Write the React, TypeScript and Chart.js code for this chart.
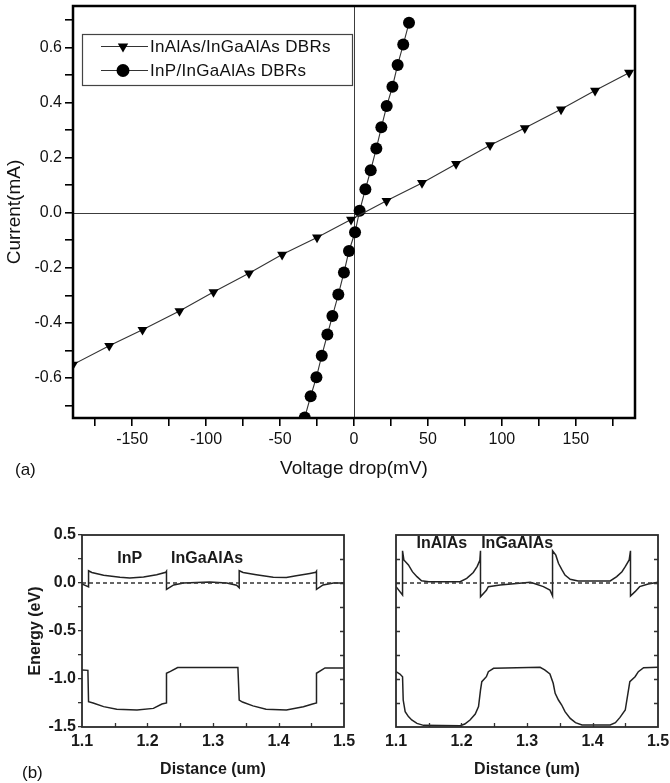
import React, { useEffect, useRef } from 'react';
import { Chart, registerables } from 'chart.js';

Chart.register(...registerables);

const FONT = "'Liberation Sans', Arial, Helvetica, sans-serif";

// ---- (a) current–voltage characteristics ----
const seriesNames = ['InAlAs/InGaAlAs DBRs', 'InP/InGaAlAs DBRs'];
const inalasVoltage = [-190, -165.5, -143, -118, -95, -71, -48.6, -25, -2, 22, 46, 69, 92, 115.5, 140, 163, 186];
const inalasCurrent = [-0.551, -0.483, -0.425, -0.357, -0.288, -0.22, -0.152, -0.09, -0.025, 0.043, 0.108, 0.177, 0.245, 0.307, 0.375, 0.443, 0.508];
const inpVoltage = [-33.3, -29.3, -25.4, -21.8, -18, -14.6, -10.6, -6.8, -3.4, 0.7, 3.8, 7.7, 11.3, 15.1, 18.5, 22.1, 26, 29.5, 33.3, 37.2];
const inpCurrent = [-0.743, -0.666, -0.597, -0.519, -0.442, -0.375, -0.297, -0.217, -0.139, -0.071, 0.007, 0.085, 0.154, 0.233, 0.31, 0.387, 0.457, 0.536, 0.61, 0.689];

// ---- (b) band diagrams, distance in um, energy in eV ----
const inpCondX = [1.1, 1.11, 1.11, 1.115, 1.133, 1.158, 1.173, 1.194, 1.214, 1.228, 1.229, 1.229, 1.24, 1.255, 1.295, 1.321, 1.336, 1.34, 1.34, 1.346, 1.366, 1.392, 1.412, 1.427, 1.448, 1.457, 1.458, 1.458, 1.468, 1.484, 1.5];
const inpCondE = [-0.01, -0.04, 0.128, 0.11, 0.08, 0.06, 0.052, 0.063, 0.087, 0.112, 0.122, -0.066, -0.02, 0.0, 0.01, 0.0, -0.024, -0.05, 0.128, 0.11, 0.087, 0.06, 0.058, 0.075, 0.1, 0.112, 0.122, -0.066, -0.02, 0.0, 0.0];
const inpValX = [1.1, 1.109, 1.11, 1.117, 1.133, 1.153, 1.184, 1.209, 1.222, 1.229, 1.229, 1.235, 1.246, 1.338, 1.34, 1.345, 1.361, 1.381, 1.412, 1.438, 1.452, 1.458, 1.458, 1.471, 1.5];
const inpValE = [-0.906, -0.91, -1.236, -1.25, -1.288, -1.316, -1.323, -1.306, -1.26, -1.25, -0.94, -0.92, -0.88, -0.88, -1.22, -1.24, -1.28, -1.316, -1.323, -1.288, -1.26, -1.25, -0.94, -0.885, -0.885];

const inalasCondX = [1.1, 1.11, 1.11, 1.112, 1.119, 1.125, 1.132, 1.139, 1.15, 1.198, 1.208, 1.218, 1.224, 1.228, 1.229, 1.229, 1.238, 1.241, 1.259, 1.305, 1.31, 1.325, 1.335, 1.339, 1.339, 1.344, 1.348, 1.353, 1.358, 1.366, 1.378, 1.427, 1.437, 1.445, 1.45, 1.456, 1.458, 1.458, 1.465, 1.472, 1.485, 1.5];
const inalasCondE = [-0.038, -0.125, 0.336, 0.24, 0.188, 0.118, 0.066, 0.024, 0.014, 0.014, 0.049, 0.11, 0.174, 0.236, 0.336, -0.143, -0.076, -0.038, -0.02, 0.007, -0.003, -0.038, -0.073, -0.135, 0.336, 0.29, 0.205, 0.142, 0.083, 0.038, 0.021, 0.021, 0.066, 0.118, 0.17, 0.24, 0.336, -0.135, -0.09, -0.038, -0.01, 0.007];
const inalasValX = [1.1, 1.106, 1.11, 1.111, 1.114, 1.119, 1.124, 1.132, 1.142, 1.198, 1.205, 1.213, 1.221, 1.226, 1.229, 1.231, 1.238, 1.241, 1.249, 1.32, 1.327, 1.335, 1.34, 1.343, 1.348, 1.353, 1.358, 1.366, 1.374, 1.384, 1.427, 1.435, 1.442, 1.45, 1.457, 1.465, 1.47, 1.478, 1.5];
const inalasValE = [-0.924, -0.948, -0.976, -1.219, -1.34, -1.392, -1.427, -1.462, -1.483, -1.486, -1.469, -1.427, -1.365, -1.288, -1.115, -1.028, -0.976, -0.924, -0.889, -0.878, -0.906, -0.948, -1.045, -1.149, -1.219, -1.271, -1.34, -1.41, -1.455, -1.479, -1.479, -1.455, -1.4, -1.323, -1.028, -0.976, -0.924, -0.882, -0.878];

const fermiX = [1.1, 1.5];
const fermiE = [0, 0];

const pts = (xs: number[], ys: number[]) => xs.map((x, i) => ({ x, y: ys[i] }));

// keep the plot rectangle exactly where the layout padding puts it
const noLabelOverhang = (s: any) => {
  s.paddingTop = 0;
  s.paddingBottom = 0;
  s.paddingLeft = 0;
  s.paddingRight = 0;
};

function makeIV(canvas: HTMLCanvasElement) {
  const decor = {
    id: 'ivDecor',
    beforeDatasetsDraw(chart: any) {
      const { ctx, chartArea: a, scales } = chart;
      const x0 = Math.round(scales.x.getPixelForValue(0)) + 0.5;
      const y0 = Math.round(scales.y.getPixelForValue(0)) + 0.5;
      ctx.save();
      ctx.strokeStyle = '#3c3c3c';
      ctx.lineWidth = 1;
      ctx.beginPath();
      ctx.moveTo(x0, a.top);
      ctx.lineTo(x0, a.bottom);
      ctx.moveTo(a.left, y0);
      ctx.lineTo(a.right, y0);
      ctx.stroke();
      ctx.restore();
    },
    afterDraw(chart: any) {
      const { ctx, chartArea: a } = chart;
      ctx.save();
      // plot frame
      ctx.strokeStyle = '#000';
      ctx.lineWidth = 2.5;
      ctx.strokeRect(a.left, a.top, a.right - a.left, a.bottom - a.top);
      // legend box
      const bx = a.left + 9, by = a.top + 28, bw = 270, bh = 51;
      ctx.fillStyle = '#fff';
      ctx.fillRect(bx, by, bw, bh);
      ctx.strokeStyle = '#444';
      ctx.lineWidth = 1.2;
      ctx.strokeRect(bx + 0.5, by + 0.5, bw, bh);
      const rows = [by + 12.5, by + 36.5];
      rows.forEach((ry, i) => {
        ctx.strokeStyle = '#333';
        ctx.lineWidth = 1.2;
        ctx.beginPath();
        ctx.moveTo(bx + 19, ry);
        ctx.lineTo(bx + 66, ry);
        ctx.stroke();
        const cx = bx + 41;
        ctx.fillStyle = '#000';
        ctx.beginPath();
        if (i === 0) {
          const r = 6;
          ctx.moveTo(cx, ry + r);
          ctx.lineTo(cx - r * 0.866, ry - r * 0.5);
          ctx.lineTo(cx + r * 0.866, ry - r * 0.5);
          ctx.closePath();
        } else {
          ctx.arc(cx, ry, 6.5, 0, Math.PI * 2);
        }
        ctx.fill();
        ctx.fillStyle = '#111';
        ctx.font = `17px ${FONT}`;
        ctx.textBaseline = 'middle';
        ctx.textAlign = 'left';
        (ctx as any).letterSpacing = '0.3px';
        ctx.fillText(seriesNames[i], bx + 68, ry + 1);
        (ctx as any).letterSpacing = '0px';
      });
      ctx.restore();
    },
  };

  return new Chart(canvas, {
    type: 'scatter',
    data: {
      datasets: [
        {
          label: seriesNames[0],
          data: pts(inalasVoltage, inalasCurrent),
          showLine: true,
          borderColor: '#333',
          borderWidth: 1.1,
          pointStyle: 'triangle',
          rotation: 180,
          pointRadius: 5.8,
          pointBackgroundColor: '#000',
          pointBorderColor: '#000',
          pointBorderWidth: 0,
        },
        {
          label: seriesNames[1],
          data: pts(inpVoltage, inpCurrent),
          showLine: true,
          borderColor: '#333',
          borderWidth: 1.1,
          pointStyle: 'circle',
          pointRadius: 6,
          pointBackgroundColor: '#000',
          pointBorderColor: '#000',
          pointBorderWidth: 0,
        },
      ],
    },
    options: {
      animation: false,
      responsive: false,
      devicePixelRatio: 1,
      layout: { padding: { left: 0, right: 35, top: 4, bottom: 0 } },
      plugins: { legend: { display: false }, tooltip: { enabled: false } },
      scales: {
        x: {
          type: 'linear',
          min: -190,
          max: 190,
          border: { display: false },
          grid: { display: true, drawOnChartArea: false, tickLength: 8, color: '#000', lineWidth: 1.6 },
          ticks: {
            stepSize: 25,
            includeBounds: false,
            autoSkip: false,
            maxRotation: 0,
            padding: 4,
            color: '#111',
            font: { family: FONT, size: 16 },
            callback: (v: any) => (Number(v) % 50 === 0 ? String(v) : ''),
          },
          title: {
            display: true,
            text: 'Voltage drop(mV)',
            color: '#111',
            font: { family: FONT, size: 19 },
            padding: { top: 0, bottom: 10 },
          },
          afterFit: (s: any) => {
            noLabelOverhang(s);
            s.height = 72;
          },
        },
        y: {
          type: 'linear',
          min: -0.745,
          max: 0.75,
          border: { display: false },
          grid: { display: true, drawOnChartArea: false, tickLength: 8, color: '#000', lineWidth: 1.6 },
          ticks: {
            stepSize: 0.1,
            includeBounds: false,
            autoSkip: false,
            padding: 3,
            color: '#111',
            font: { family: FONT, size: 16 },
            callback: (v: any) => {
              const k = Math.round(Number(v) * 10);
              return k % 2 === 0 ? (k / 10).toFixed(1) : '';
            },
          },
          title: {
            display: true,
            text: 'Current(mA)',
            color: '#111',
            font: { family: FONT, size: 19 },
            padding: { top: 3, bottom: 0 },
          },
          afterFit: (s: any) => {
            noLabelOverhang(s);
            s.width = 73;
          },
        },
      },
    },
    plugins: [decor],
  } as any);
}

type BandLabel = { text: string; x: number; y: number };

function makeBand(
  canvas: HTMLCanvasElement,
  cond: { x: number; y: number }[],
  val: { x: number; y: number }[],
  labels: BandLabel[],
  withAxis: boolean,
  padLeft: number,
  padRight: number
) {
  const decor = {
    id: 'bandDecor',
    afterDraw(chart: any) {
      const { ctx, chartArea: a, scales } = chart;
      ctx.save();
      ctx.strokeStyle = '#333';
      ctx.lineWidth = 1.3;
      ctx.beginPath();
      // inward ticks every 0.25 eV on the right (and left when no outer axis)
      for (let e = -1.25; e <= 0.26; e += 0.25) {
        const py = Math.round(scales.y.getPixelForValue(e)) + 0.5;
        ctx.moveTo(a.right, py);
        ctx.lineTo(a.right - 4, py);
        if (!withAxis) {
          ctx.moveTo(a.left, py);
          ctx.lineTo(a.left + 4, py);
        }
      }
      // inward ticks every 0.05 um along the bottom
      for (let d = 1.15; d < 1.499; d += 0.05) {
        const px = Math.round(scales.x.getPixelForValue(d)) + 0.5;
        ctx.moveTo(px, a.bottom);
        ctx.lineTo(px, a.bottom - 4);
      }
      ctx.stroke();
      ctx.strokeStyle = '#2a2a2a';
      ctx.lineWidth = 1.8;
      ctx.strokeRect(a.left, a.top, a.right - a.left, a.bottom - a.top);
      ctx.fillStyle = '#1a1a1a';
      ctx.font = `bold 16px ${FONT}`;
      ctx.textAlign = 'center';
      ctx.textBaseline = 'middle';
      labels.forEach((l) => {
        ctx.fillText(l.text, scales.x.getPixelForValue(l.x), scales.y.getPixelForValue(l.y));
      });
      ctx.restore();
    },
  };

  return new Chart(canvas, {
    type: 'scatter',
    data: {
      datasets: [
        {
          data: pts(fermiX, fermiE),
          showLine: true,
          borderColor: '#333',
          borderWidth: 1.5,
          borderDash: [4, 3],
          pointRadius: 0,
        },
        { data: cond, showLine: true, borderColor: '#222', borderWidth: 1.5, pointRadius: 0 },
        { data: val, showLine: true, borderColor: '#222', borderWidth: 1.5, pointRadius: 0 },
      ],
    },
    options: {
      animation: false,
      responsive: false,
      devicePixelRatio: 1,
      layout: { padding: { left: padLeft, right: padRight, top: 45, bottom: 0 } },
      plugins: { legend: { display: false }, tooltip: { enabled: false } },
      scales: {
        x: {
          type: 'linear',
          min: 1.1,
          max: 1.5,
          border: { display: false },
          grid: { display: false },
          ticks: {
            stepSize: 0.1,
            autoSkip: false,
            maxRotation: 0,
            padding: -3,
            color: '#1a1a1a',
            font: { family: FONT, size: 16, weight: 'bold' },
            callback: (v: any) => Number(v).toFixed(1),
          },
          title: {
            display: true,
            text: 'Distance (um)',
            color: '#1a1a1a',
            font: { family: FONT, size: 16, weight: 'bold' },
            padding: { top: 0, bottom: 4 },
          },
          afterFit: (s: any) => {
            noLabelOverhang(s);
            s.height = 56;
          },
        },
        y: {
          type: 'linear',
          min: -1.5,
          max: 0.5,
          display: withAxis,
          border: { display: false },
          grid: { display: true, drawOnChartArea: false, tickLength: 4, color: '#333', lineWidth: 1.3 },
          ticks: {
            stepSize: 0.25,
            autoSkip: false,
            padding: 2,
            color: '#1a1a1a',
            font: { family: FONT, size: 16, weight: 'bold' },
            callback: (v: any) => {
              const k = Math.round(Number(v) * 4);
              return k % 2 === 0 ? (k / 4).toFixed(1) : '';
            },
          },
          title: {
            display: true,
            text: 'Energy (eV)',
            color: '#1a1a1a',
            font: { family: FONT, size: 16, weight: 'bold' },
            padding: { top: 26, bottom: 0 },
          },
          afterFit: (s: any) => {
            noLabelOverhang(s);
            s.width = withAxis ? 82 : 0;
          },
        },
      },
    },
    plugins: [decor],
  } as any);
}

export default function App() {
  const topRef = useRef<HTMLCanvasElement>(null);
  const leftRef = useRef<HTMLCanvasElement>(null);
  const rightRef = useRef<HTMLCanvasElement>(null);

  useEffect(() => {
    const charts = [
      makeIV(topRef.current!),
      makeBand(
        leftRef.current!,
        pts(inpCondX, inpCondE),
        pts(inpValX, inpValE),
        [
          { text: 'InP', x: 1.173, y: 0.25 },
          { text: 'InGaAlAs', x: 1.291, y: 0.25 },
        ],
        true,
        0,
        16
      ),
      makeBand(
        rightRef.current!,
        pts(inalasCondX, inalasCondE),
        pts(inalasValX, inalasValE),
        [
          { text: 'InAlAs', x: 1.17, y: 0.406 },
          { text: 'InGaAlAs', x: 1.285, y: 0.406 },
        ],
        false,
        36,
        12
      ),
    ];
    return () => charts.forEach((c) => c.destroy());
  }, []);

  const label: React.CSSProperties = {
    position: 'absolute',
    fontFamily: FONT,
    fontSize: 17,
    lineHeight: '17px',
    color: '#111',
  };

  return (
    <div style={{ position: 'absolute', left: 0, top: 0, width: 670, height: 783, background: '#fff', overflow: 'hidden' }}>
      <canvas ref={topRef} width={670} height={490} style={{ position: 'absolute', left: 0, top: 0, width: 670, height: 490 }} />
      <canvas ref={leftRef} width={360} height={293} style={{ position: 'absolute', left: 0, top: 490, width: 360, height: 293 }} />
      <canvas ref={rightRef} width={310} height={293} style={{ position: 'absolute', left: 360, top: 490, width: 310, height: 293 }} />
      <span style={{ ...label, left: 15, top: 461 }}>(a)</span>
      <span style={{ ...label, left: 22, top: 764 }}>(b)</span>
    </div>
  );
}
